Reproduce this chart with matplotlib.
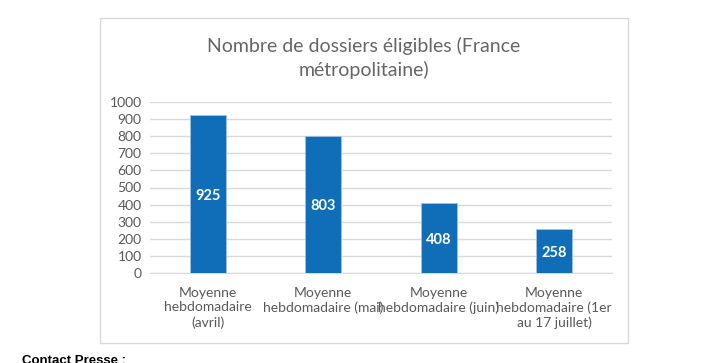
import matplotlib
matplotlib.use("Agg")
import matplotlib.pyplot as plt
from matplotlib.patches import Rectangle

categories = ["Moyenne\nhebdomadaire\n(avril)",
              "Moyenne\nhebdomadaire (mai)",
              "Moyenne\nhebdomadaire (juin)",
              "Moyenne\nhebdomadaire (1er\nau 17 juillet)"]
values = [925, 803, 408, 258]
yticks = list(range(0, 1001, 100))
title = "Nombre de dossiers éligibles (France\nmétropolitaine)"

W, H = 704, 363
fig = plt.figure(figsize=(W / 100, H / 100), dpi=100)
fig.patch.set_facecolor("white")

# chart box border
fig.add_artist(Rectangle((100 / W, 1 - 343 / H), 528 / W, 325 / H,
                         transform=fig.transFigure, fill=False,
                         edgecolor="#d9d9d9", linewidth=1))

ax = fig.add_axes([150 / W, 1 - 273 / H, 462 / W, 171 / H])
x = range(len(categories))
bars = ax.bar(x, values, width=0.31, color="#106EB8", edgecolor="#9DC3E6",
              linewidth=0.6, zorder=3)
ax.set_xlim(-0.5, len(categories) - 0.5)
ax.set_ylim(0, 1000)
ax.set_yticks(yticks)
ax.set_yticklabels([str(t) for t in yticks], fontfamily="Lato",
                   fontsize=10, color="#595959")
ax.set_xticks(list(x))
ax.set_xticklabels(categories, fontfamily="Lato", fontsize=10,
                   color="#595959", linespacing=1.25)
ax.tick_params(length=0, pad=6)
ax.tick_params(axis="x", pad=10)
ax.grid(axis="y", color="#d9d9d9", linewidth=1, zorder=0)
for s in ["top", "right", "left"]:
    ax.spines[s].set_visible(False)
ax.spines["bottom"].set_color("#d9d9d9")
ax.set_facecolor("none")

for b, v in zip(bars, values):
    ax.text(b.get_x() + b.get_width() / 2, v / 2 - 10, str(v), ha="center",
            va="center", color="white", fontweight="bold",
            fontfamily="Lato", fontsize=10.5, zorder=4)

fig.text(364 / W, 1 - 58 / H, title, ha="center", va="center",
         fontfamily="Lato", fontsize=14, color="#666666", linespacing=1.45)

fig.text(22 / W, 1 - 355 / H, "Contact Presse :", ha="left", va="top",
         fontfamily="Liberation Sans", fontweight="bold", fontsize=9.5,
         color="black")

fig.savefig("out.png", dpi=100)
